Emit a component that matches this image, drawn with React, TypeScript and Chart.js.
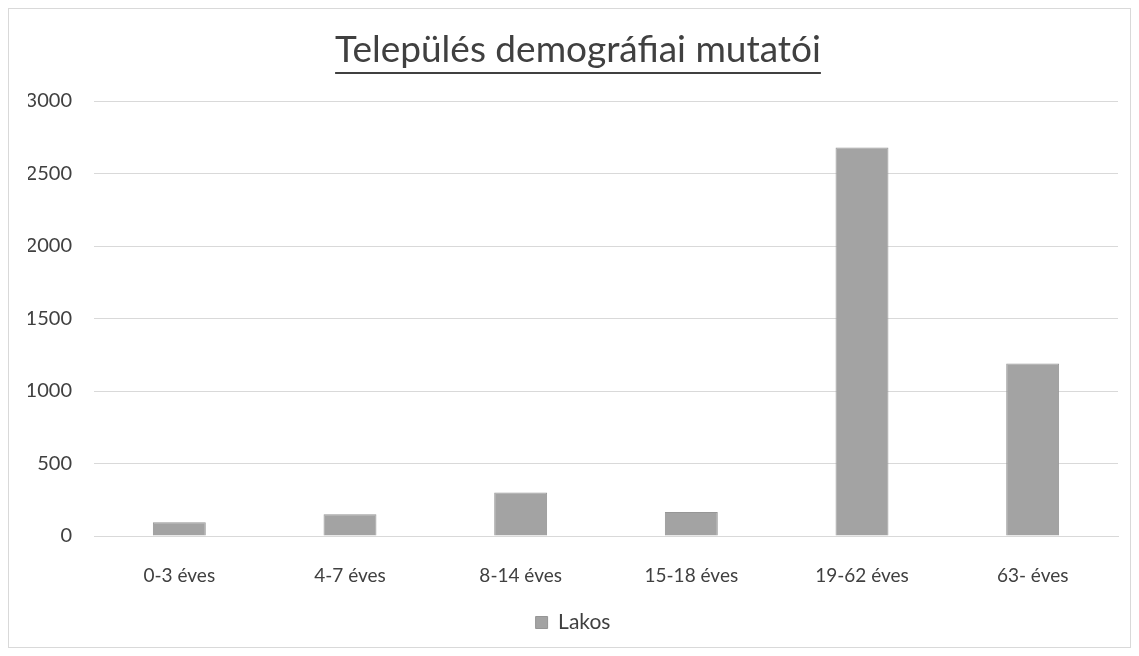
import React, { useEffect, useRef } from "react";
import { Chart, registerables } from "chart.js";

Chart.register(...registerables);

const TITLE = "Település demográfiai mutatói";
const SERIES_NAME = "Lakos";
const categories = ["0-3 éves", "4-7 éves", "8-14 éves", "15-18 éves", "19-62 éves", "63- éves"];
const values = [95, 150, 300, 165, 2680, 1190];
const yTicks = [0, 500, 1000, 1500, 2000, 2500, 3000];

const FONT = "Lato, 'Open Sans', sans-serif";
const TEXT = "#404040";

const titlePlugin = {
  id: "underlinedTitle",
  afterDraw(chart: any) {
    const ctx = chart.ctx;
    ctx.save();
    ctx.font = `37px ${FONT}`;
    ctx.fillStyle = TEXT;
    ctx.textAlign = "center";
    ctx.textBaseline = "alphabetic";
    const cx = chart.width / 2 + 8.5;
    const baseline = 53;
    ctx.fillText(TITLE, cx, baseline);
    const w = ctx.measureText(TITLE).width;
    ctx.strokeStyle = TEXT;
    ctx.lineWidth = 2;
    ctx.beginPath();
    ctx.moveTo(cx - w / 2, baseline + 11);
    ctx.lineTo(cx + w / 2, baseline + 11);
    ctx.stroke();
    ctx.restore();
  },
};

export default function App() {
  const ref = useRef<HTMLCanvasElement | null>(null);
  useEffect(() => {
    if (!ref.current) return;
    const chart = new Chart(ref.current, {
      type: "bar",
      data: {
        labels: categories,
        datasets: [
          {
            label: SERIES_NAME,
            data: values,
            backgroundColor: "#a3a3a3",
            borderColor: "#969696",
            borderWidth: 1,
            barPercentage: 0.31,
            categoryPercentage: 1,
          },
        ],
      },
      options: {
        animation: false,
        responsive: false,
        layout: { padding: { top: 92, left: 19, right: 12, bottom: 4 } },
        plugins: {
          title: { display: false },
          tooltip: { enabled: false },
          legend: {
            display: true,
            position: "bottom",
            labels: {
              boxWidth: 12,
              boxHeight: 12,
              padding: 12,
              color: TEXT,
              font: { family: FONT, size: 21 },
            },
          },
        },
        scales: {
          x: {
            afterFit(scale: any) {
              scale.height = 64;
            },
            grid: { display: false, drawTicks: false },
            border: { display: true, color: "#d9d9d9" },
            ticks: { color: TEXT, font: { family: FONT, size: 19 }, padding: 28 },
          },
          y: {
            min: 0,
            max: 3000,
            afterBuildTicks(scale: any) {
              scale.ticks = yTicks.map((v) => ({ value: v }));
            },
            afterFit(scale: any) {
              scale.width = 66;
            },
            grid: { color: "#d9d9d9", drawTicks: false },
            border: { display: false },
            ticks: {
              color: TEXT,
              font: { family: FONT, size: 20 },
              padding: 22,
              callback: (v: any) => String(v),
            },
          },
        },
      },
      plugins: [titlePlugin],
    });
    return () => chart.destroy();
  }, []);
  return (
    <div style={{ width: 1123, height: 640, border: "1px solid #d9d9d9", boxSizing: "border-box" }}>
      <canvas ref={ref} width={1121} height={638} style={{ display: "block" }} />
    </div>
  );
}
